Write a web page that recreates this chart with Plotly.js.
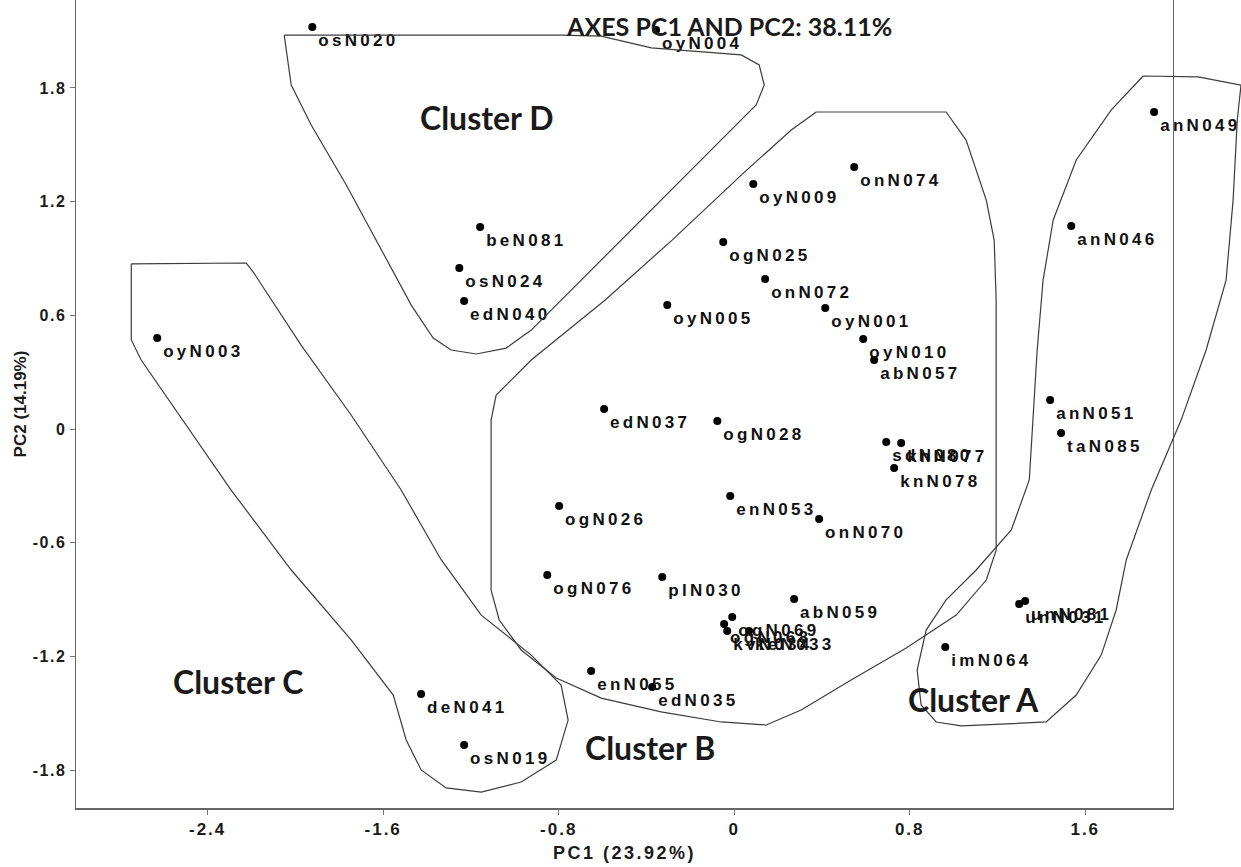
<!DOCTYPE html>
<html>
<head>
<meta charset="utf-8">
<script src="https://cdn.plot.ly/plotly-3.0.1.min.js"></script>
<style>
html,body{margin:0;padding:0;background:#fff;}
#chart .textpoint text{letter-spacing:3.3px;}
#chart .ytick text{letter-spacing:1.5px;}
#chart .xtick text{letter-spacing:2px;}
#chart .g-xtitle text{letter-spacing:2.5px;}
</style>
</head>
<body>
<div id="chart" style="width:1241px;height:867px;"></div>
<script>
// ---- point data (PC1, PC2 scores) ----
const pointNames = ["osN020","oyN004","anN049","onN074","oyN009","beN081","anN046","ogN025","osN024","onN072",
  "edN040","oyN005","oyN001","oyN010","abN057","oyN003","anN051","edN037","ogN028","taN085",
  "sdN080","knN077","knN078","ogN026","enN053","onN070","ogN076","plN030","abN059","ogN069",
  "ogN068","kvN034","keN033","unN031","unN081","imN064","enN055","edN035","deN041","osN019"];
const pc1 = [-1.923,-0.356,1.914,0.547,0.087,-1.158,1.536,-0.050,-1.253,0.141,
  -1.231,-0.305,0.415,0.588,0.638,-2.630,1.440,-0.593,-0.077,1.490,
  0.693,0.761,0.729,-0.798,-0.018,0.387,-0.852,-0.328,0.273,-0.009,
  -0.046,-0.032,0.068,1.299,1.326,0.962,-0.652,-0.374,-1.427,-1.231];
const pc2 = [2.121,2.106,1.673,1.383,1.293,1.066,1.071,0.987,0.850,0.792,
  0.675,0.654,0.639,0.475,0.364,0.480,0.153,0.106,0.042,-0.021,
  -0.069,-0.074,-0.206,-0.406,-0.354,-0.475,-0.770,-0.781,-0.897,-0.992,
  -1.029,-1.066,-1.066,-0.923,-0.908,-1.150,-1.277,-1.361,-1.398,-1.668];

// ---- cluster outlines (PC1, PC2) ----
const clusterD_x = [-2.051,-0.789,-0.606,-0.378,0.032,0.114,0.137,0.100,-0.150,-0.424,-0.697,-0.925,-1.039,-1.176,-1.290,-1.372,-1.472,-1.609,-1.768,-1.928,-2.019,-2.051];
const clusterD_y = [2.079,2.079,2.073,2.011,1.974,1.921,1.815,1.710,1.420,1.103,0.786,0.522,0.427,0.396,0.417,0.480,0.654,0.945,1.288,1.604,1.815,2.079];
const clusterC_x = [-2.748,-2.224,-2.192,-1.974,-1.746,-1.518,-1.335,-1.153,-0.925,-0.789,-0.757,-0.811,-0.971,-1.153,-1.313,-1.427,-1.495,-1.554,-1.746,-2.019,-2.293,-2.543,-2.703,-2.748,-2.748];
const clusterC_y = [0.871,0.876,0.828,0.443,0.074,-0.322,-0.691,-0.982,-1.193,-1.351,-1.536,-1.747,-1.863,-1.916,-1.894,-1.799,-1.641,-1.404,-1.113,-0.744,-0.322,0.100,0.364,0.470,0.871];
const clusterB_x = [0.374,0.966,1.057,1.149,1.185,1.194,1.194,1.149,1.012,0.784,0.533,0.305,0.146,-0.059,-0.333,-0.606,-0.811,-0.971,-1.071,-1.108,-1.108,-1.085,-0.925,-0.588,-0.283,0.032,0.260,0.374];
const clusterB_y = [1.673,1.673,1.525,1.208,0.997,0.681,-0.639,-0.797,-0.982,-1.156,-1.325,-1.483,-1.562,-1.546,-1.493,-1.420,-1.314,-1.166,-1.008,-0.850,0.047,0.179,0.364,0.681,0.997,1.340,1.578,1.673];
const clusterA_x = [1.864,2.115,2.31,2.293,2.274,2.242,2.151,2.037,1.901,1.787,1.741,1.673,1.559,1.422,1.035,0.921,0.852,0.834,0.875,0.966,1.103,1.263,1.345,1.363,1.381,1.408,1.454,1.559,1.718,1.864];
const clusterA_y = [1.863,1.858,1.815,1.631,1.208,0.786,0.417,0.047,-0.322,-0.691,-0.955,-1.193,-1.404,-1.546,-1.567,-1.546,-1.456,-1.272,-1.061,-0.902,-0.744,-0.533,-0.269,0.047,0.417,0.786,1.103,1.420,1.683,1.863];
const clusterNames = ["Cluster A","Cluster B","Cluster C","Cluster D"];

// ---- ticks ----
const xTickVals = [-2.4,-1.6,-0.8,0,0.8,1.6];
const xTickText = ["-2.4","-1.6","-0.8","0","0.8","1.6"];
const yTickVals = [1.8,1.2,0.6,0,-0.6,-1.2,-1.8];
const yTickText = ["1.8","1.2","0.6","0","-0.6","-1.2","-1.8"];

const outlineStyle = {color:'#3c3c3c', width:1.2};
const outlines = [[clusterA_x,clusterA_y],[clusterB_x,clusterB_y],[clusterC_x,clusterC_y],[clusterD_x,clusterD_y]];
const traces = outlines.map(o => ({
  x:o[0], y:o[1], type:'scatter', mode:'lines', line:outlineStyle, hoverinfo:'skip', showlegend:false,
  xaxis:'x2', yaxis:'y'
}));
traces.push({
  x:pc1, y:pc2, text:pointNames, type:'scatter', mode:'markers+text',
  textposition:'bottom right', cliponaxis:false,
  marker:{color:'#000', size:8},
  textfont:{family:'Liberation Sans, Arial, sans-serif', size:17, color:'#111', weight:'bold'},
  showlegend:false
});

const tickFontX = {family:'Liberation Sans, Arial, sans-serif', size:17, color:'#1a1a1a', weight:'bold'};
const tickFontY = {family:'Liberation Sans, Arial, sans-serif', size:16, color:'#1a1a1a', weight:'bold'};
const titleFontX = {family:'Liberation Sans, Arial, sans-serif', size:18, color:'#1a1a1a', weight:'bold'};
const titleFontY = {family:'Liberation Sans, Arial, sans-serif', size:17, color:'#1a1a1a', weight:'bold'};
const clusterFont = {family:'Lato, Open Sans, sans-serif', size:32, color:'#1a1a1a', weight:'bold'};
const clusterPos = [[1.089,-1.430],[-0.383,-1.683],[-2.261,-1.335],[-1.130,1.646]];

const layout = {
  width:1241, height:867,
  margin:{l:76, r:0, t:0, b:59},
  paper_bgcolor:'#fff', plot_bgcolor:'rgba(0,0,0,0)',
  showlegend:false,
  title:{text:'AXES PC1 AND PC2: 38.11%', x:0.588, xanchor:'center', y:0.969, yanchor:'middle', yref:'container',
    font:{family:'Lato, Open Sans, sans-serif', size:25, color:'#1a1a1a', weight:'bold'}},
  xaxis:{domain:[0, 0.94163], range:[-3,2], showgrid:false, zeroline:false,
    showline:true, linecolor:'#666', linewidth:1.5,
    ticks:'outside', ticklen:5, tickcolor:'#777', tickwidth:1,
    tickvals:xTickVals, ticktext:xTickText, tickfont:tickFontX,
    title:{text:'PC1 (23.92%)', font:titleFontX, standoff:8}, automargin:false},
  xaxis2:{domain:[0,1], range:[-3,2.31], anchor:'y', visible:false, showgrid:false, zeroline:false},
  yaxis:{range:[-2,2.264], showgrid:false, zeroline:false, showline:true, mirror:true, linecolor:'#666', linewidth:1.5,
    ticks:'outside', ticklen:5, tickcolor:'#777', tickwidth:1,
    tickvals:yTickVals, ticktext:yTickText, tickfont:tickFontY,
    title:{text:'PC2 (14.19%)', font:titleFontY, standoff:8}, automargin:false},
  annotations: clusterNames.map((n,i) => ({
    text:n, x:clusterPos[i][0], y:clusterPos[i][1], xref:'x', yref:'y', showarrow:false, font:clusterFont
  }))
};

Plotly.newPlot('chart', traces, layout, {displayModeBar:false, staticPlot:true});
</script>
</body>
</html>
